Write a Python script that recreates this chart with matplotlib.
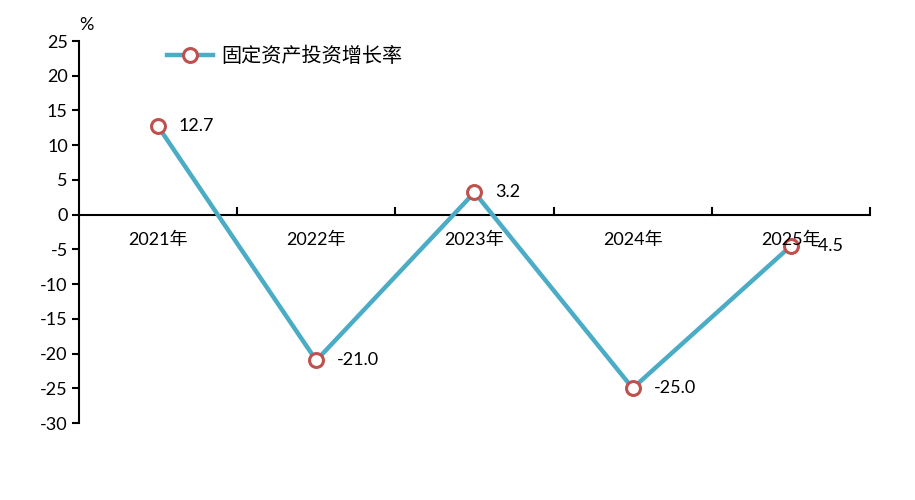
import matplotlib
matplotlib.use("Agg")
import matplotlib.pyplot as plt

plt.rcParams["font.family"] = ["Lato", "Noto Sans CJK SC", "DejaVu Sans"]

years = ["2021年", "2022年", "2023年", "2024年", "2025年"]
growth = [12.7, -21.0, 3.2, -25.0, -4.5]
labels = ["12.7", "-21.0", "3.2", "-25.0", "-4.5"]
yticks = [25, 20, 15, 10, 5, 0, -5, -10, -15, -20, -25, -30]

LINE_COLOR = "#4BACC6"
MARK_COLOR = "#C0504D"

fig = plt.figure(figsize=(9.15, 5.0), dpi=100)
ax = fig.add_axes([0.0863, 0.154, 0.8645, 0.764])

x = list(range(len(years)))

ax.plot(
    x,
    growth,
    color=LINE_COLOR,
    linewidth=3.2,
    marker="o",
    markersize=10,
    markerfacecolor="white",
    markeredgecolor=MARK_COLOR,
    markeredgewidth=2.2,
    label="固定资产投资增长率",
    zorder=3
)

for xi, yi, t in zip(x, growth, labels):
    ax.annotate(
        t,
        (xi, yi),
        xytext=(15, 0),
        textcoords="offset points",
        ha="left",
        va="center",
        fontsize=13,
        zorder=4
    )

ax.set_xlim(-0.5, len(years) - 0.5)
ax.set_ylim(-30, 25)
ax.set_yticks(yticks)
ax.set_yticklabels([str(v) for v in yticks], fontsize=13)

for side in ["top", "right", "bottom"]:
    ax.spines[side].set_visible(False)
ax.spines["left"].set_linewidth(1.5)

ax.axhline(0, color="black", linewidth=1.5, zorder=2)
ax.set_xticks([])
for b in [i + 0.5 for i in x]:
    ax.plot([b, b], [0, 0.9], color="black", linewidth=1.5, clip_on=False)

for xi, name in zip(x, years):
    ax.text(
        xi, -2.4, name,
        ha="center", va="top",
        fontsize=13
    )

ax.tick_params(axis="y", direction="out", length=5, width=1.5, pad=3)

ax.text(-0.5, 26.2, "%", fontsize=13, ha="left", va="bottom")

leg = ax.legend(
    loc="upper left",
    bbox_to_anchor=(0.088, 1.035),
    frameon=False,
    fontsize=14.5,
    handlelength=2.3,
    handletextpad=0.4
)

fig.savefig("out.png", dpi=100)
